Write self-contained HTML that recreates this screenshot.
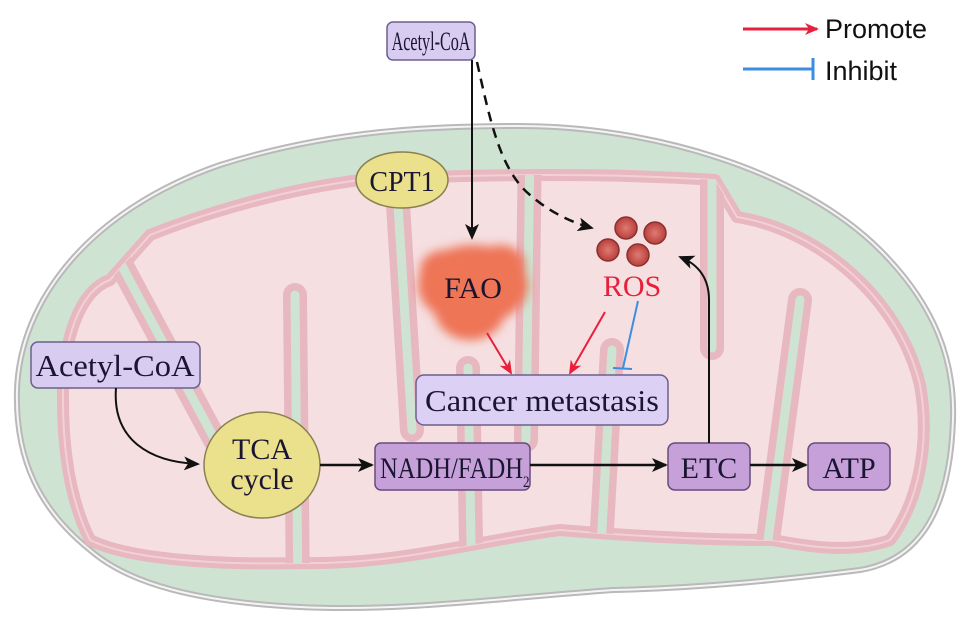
<!DOCTYPE html>
<html><head><meta charset="utf-8"><style>
html,body{margin:0;padding:0;background:#fff;}
svg{display:block;}
.t{font-family:"Liberation Serif",serif;fill:#1a1530;}
</style></head><body>
<svg width="969" height="620" viewBox="0 0 969 620" xmlns="http://www.w3.org/2000/svg">
<defs>
<marker id="ar" markerWidth="14" markerHeight="14" refX="12" refY="7" orient="auto" markerUnits="userSpaceOnUse"><path d="M0,1 L14,7 L0,13 L4,7 Z" fill="#e8203c"/></marker>
<marker id="abig" markerWidth="16" markerHeight="14" refX="14" refY="7" orient="auto" markerUnits="userSpaceOnUse"><path d="M0,0 L16,7 L0,14 L4,7 Z" fill="#111"/></marker>
<filter id="blur"><feGaussianBlur stdDeviation="5"/></filter>
<radialGradient id="ros" cx="0.5" cy="0.5" r="0.5"><stop offset="0" stop-color="#e07a72"/><stop offset="1" stop-color="#b8403c"/></radialGradient>
<path id="mat" d="M63,400 C62,340 80,290 110,280 L150,235 C200,215 280,190 360,180 C450,175 600,172 715,180 L737,217 C820,230 900,300 920,385 C930,440 920,500 890,540 C850,555 800,545 773,540 C700,540 620,535 560,530 C480,540 400,565 300,563 C220,565 130,560 90,540 C70,500 63,450 63,400 Z"/>
<clipPath id="mc"><use href="#mat"/></clipPath>
</defs>

<path d="M17,390 C20,300 90,210 220,165 C330,130 430,126 520,126 C650,126 800,170 880,250 C935,305 955,360 953,420 C950,510 920,560 860,570 C780,580 700,588 613,590 C500,598 400,612 300,607 C200,602 130,585 90,550 C40,510 15,460 17,390 Z" fill="#cfe3d3" stroke="#b9b9b9" stroke-width="6"/>
<path d="M17,390 C20,300 90,210 220,165 C330,130 430,126 520,126 C650,126 800,170 880,250 C935,305 955,360 953,420 C950,510 920,560 860,570 C780,580 700,588 613,590 C500,598 400,612 300,607 C200,602 130,585 90,550 C40,510 15,460 17,390 Z" fill="none" stroke="#f4f4f4" stroke-width="2"/>

<use href="#mat" fill="#f5dfe1" stroke="#e7b8c0" stroke-width="12" stroke-linejoin="round"/>
<use href="#mat" fill="none" stroke="#f2d0d4" stroke-width="2"/>

<g fill="none" stroke-linecap="round" clip-path="url(#mc)">
<g stroke="#e7b8c0" stroke-width="24">
<path d="M100,225 L215,440"/>
<path d="M298,600 L295,295"/>
<path d="M394,140 L412,430"/>
<path d="M472,600 L468,368"/>
<path d="M530,140 L526,440"/>
<path d="M598,600 L612,350"/>
<path d="M712,140 L712,348"/>
<path d="M760,600 L800,300"/>
</g>
<g stroke="#cfe3d3" stroke-width="9">
<path d="M100,225 L215,440"/>
<path d="M298,600 L295,295"/>
<path d="M394,140 L412,430"/>
<path d="M472,600 L468,368"/>
<path d="M530,140 L526,440"/>
<path d="M598,600 L612,350"/>
<path d="M712,140 L712,348"/>
<path d="M760,600 L800,300"/>
</g>
</g>

<rect x="387" y="22" width="88" height="38" rx="6" fill="#d9ccf1" stroke="#6e5e8e" stroke-width="1.5"/>
<text transform="translate(431,50) scale(0.62,1)" class="t" font-size="26" text-anchor="middle">Acetyl-CoA</text>

<line x1="743" y1="29" x2="817" y2="29" stroke="#e8203c" stroke-width="3" marker-end="url(#ar)"/>
<text x="825" y="38" font-family="Liberation Sans,sans-serif" font-size="27" fill="#111">Promote</text>
<line x1="743" y1="69" x2="813" y2="69" stroke="#3b8ee0" stroke-width="3"/>
<line x1="813" y1="58" x2="813" y2="80" stroke="#3b8ee0" stroke-width="3"/>
<text x="825" y="80" font-family="Liberation Sans,sans-serif" font-size="27" fill="#111">Inhibit</text>

<line x1="472" y1="60" x2="472" y2="238" stroke="#111" stroke-width="2" marker-end="url(#abig)"/>
<path d="M477,62 C490,120 500,170 530,195 C550,212 570,222 592,228" fill="none" stroke="#111" stroke-width="2.5" stroke-dasharray="10,7" marker-end="url(#abig)"/>

<ellipse cx="402" cy="180" rx="46" ry="28" fill="#ebe08c" stroke="#8a8050" stroke-width="1.5"/>
<text x="402" y="191" class="t" font-size="28" text-anchor="middle">CPT1</text>

<g filter="url(#blur)" fill="#ee7457">
<ellipse cx="473" cy="285" rx="55" ry="40"/>
<ellipse cx="470" cy="310" rx="35" ry="30"/>
<ellipse cx="445" cy="270" rx="25" ry="20"/>
<ellipse cx="500" cy="265" rx="25" ry="20"/>
</g>
<text x="473" y="298" class="t" font-size="30" text-anchor="middle">FAO</text>

<g fill="url(#ros)" stroke="#8a3030" stroke-width="1.5">
<circle cx="626" cy="228" r="11"/>
<circle cx="655" cy="233" r="11"/>
<circle cx="608" cy="250" r="11"/>
<circle cx="638" cy="255" r="11"/>
</g>
<text x="632" y="296" font-family="Liberation Serif,serif" font-size="30" fill="#e8203c" text-anchor="middle">ROS</text>

<line x1="487" y1="333" x2="511" y2="373" stroke="#e8203c" stroke-width="2" marker-end="url(#ar)"/>
<line x1="605" y1="312" x2="570" y2="373" stroke="#e8203c" stroke-width="2" marker-end="url(#ar)"/>
<line x1="638" y1="301" x2="623" y2="368" stroke="#3b8ee0" stroke-width="2"/>
<line x1="613" y1="368" x2="632" y2="369" stroke="#3b8ee0" stroke-width="2"/>

<rect x="416" y="375" width="252" height="50" rx="8" fill="#dcd0f4" stroke="#6e5e8e" stroke-width="1.5"/>
<text transform="translate(542,411) scale(1.05,1)" class="t" font-size="31" text-anchor="middle">Cancer metastasis</text>

<rect x="31" y="342" width="169" height="46" rx="7" fill="#d9ccf1" stroke="#6e5e8e" stroke-width="1.5"/>
<text transform="translate(115,376) scale(1.05,1)" class="t" font-size="31" text-anchor="middle">Acetyl-CoA</text>
<path d="M116,388 C112,440 150,462 198,464" fill="none" stroke="#111" stroke-width="2" marker-end="url(#abig)"/>

<ellipse cx="262" cy="465" rx="58" ry="53" fill="#ebe08c" stroke="#8a8050" stroke-width="1.5"/>
<text x="262" y="459" class="t" font-size="30" text-anchor="middle">TCA</text>
<text x="262" y="489" class="t" font-size="30" text-anchor="middle">cycle</text>
<line x1="320" y1="465" x2="372" y2="465" stroke="#111" stroke-width="2.5" marker-end="url(#abig)"/>

<rect x="375" y="443" width="155" height="47" rx="6" fill="#c6a1d9" stroke="#6a4a7a" stroke-width="1.5"/>
<text transform="translate(380,478) scale(0.82,1)" class="t" font-size="30">NADH/FADH<tspan font-size="16" dy="9">2</tspan></text>
<line x1="530" y1="465" x2="666" y2="465" stroke="#111" stroke-width="2.5" marker-end="url(#abig)"/>

<rect x="668" y="443" width="82" height="47" rx="7" fill="#c6a1d9" stroke="#6a4a7a" stroke-width="1.5"/>
<text x="709" y="478" class="t" font-size="30" text-anchor="middle">ETC</text>
<line x1="750" y1="465" x2="806" y2="465" stroke="#111" stroke-width="2.5" marker-end="url(#abig)"/>
<path d="M709,443 L709,300 C709,280 700,265 680,257" fill="none" stroke="#111" stroke-width="2" marker-end="url(#abig)"/>

<rect x="808" y="443" width="82" height="47" rx="7" fill="#c6a1d9" stroke="#6a4a7a" stroke-width="1.5"/>
<text x="849" y="478" class="t" font-size="30" text-anchor="middle">ATP</text>
</svg>
</body></html>
